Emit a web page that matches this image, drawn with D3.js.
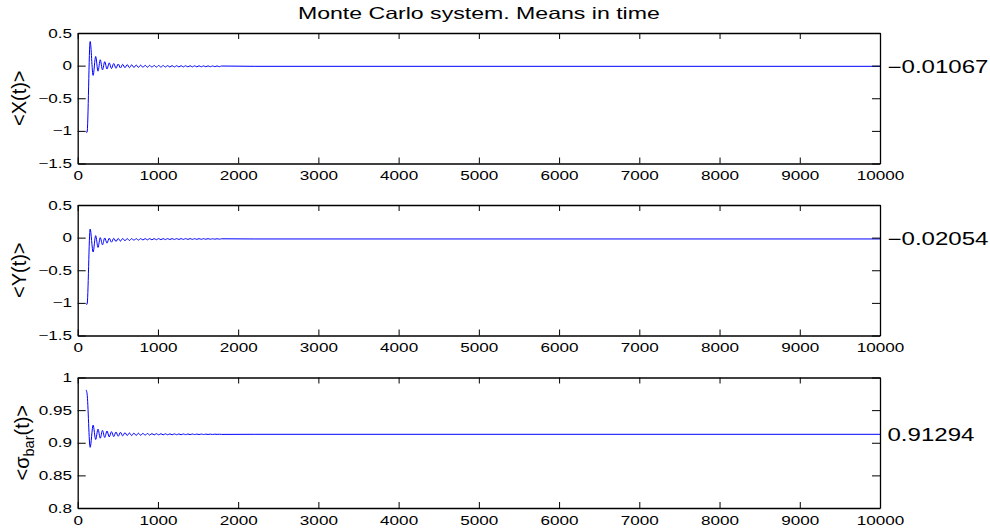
<!DOCTYPE html>
<html>
<head>
<meta charset="utf-8">
<script src="https://cdn.jsdelivr.net/npm/d3@7/dist/d3.min.js"></script>
<style>
  html, body { margin: 0; padding: 0; background: #fff; }
  svg { display: block; font-family: "Liberation Sans", Arial, Helvetica, sans-serif; }
</style>
</head>
<body>
<script>
// Monte Carlo run: time-averaged means of X, Y and sigma_bar.
// Samples are the turning points of the damped oscillation, then the settled value.
const timeSteps = [
  105, 117, 155, 192, 224, 253, 281, 309, 337, 365, 393, 421, 449, 477, 505, 533,
  561, 589, 617, 645, 673, 701, 729, 757, 785, 813, 841, 869, 897, 925, 953, 981,
  1009, 1037, 1065, 1093, 1121, 1149, 1177, 1205, 1233, 1261, 1289, 1317, 1345, 1373,
  1401, 1429, 1457, 1485, 1513, 1541, 1569, 1597, 1625, 1653, 1681, 1709, 1737, 1765,
  1793, 2200, 10000
];

const meanX = [
  -1.02, -1.02, 0.37, -0.15, 0.14, -0.085, 0.09, -0.065, 0.06, -0.052, 0.042, -0.045, 0.032, -0.040, 0.025, -0.036,
  0.020, -0.033, 0.016, -0.031, 0.012, -0.029, 0.009, -0.027, 0.007, -0.026, 0.005, -0.025, 0.004, -0.024, 0.003, -0.023,
  0.002, -0.022, 0.001, -0.022, 0.000, -0.021, 0.000, -0.021, -0.001, -0.020, -0.001, -0.020, -0.002, -0.019,
  -0.002, -0.019, -0.003, -0.018, -0.003, -0.018, -0.004, -0.017, -0.004, -0.017, -0.005, -0.016, -0.005, -0.016,
  -0.006, -0.0107, -0.0107
];

const meanY = [
  -1.02, -1.02, 0.13, -0.22, 0.03, -0.15, 0.0, -0.11, -0.005, -0.085, -0.008, -0.070, -0.010, -0.060, -0.012, -0.053,
  -0.013, -0.048, -0.014, -0.044, -0.014, -0.041, -0.015, -0.038, -0.015, -0.036, -0.015, -0.034, -0.015, -0.033, -0.015, -0.032,
  -0.015, -0.031, -0.015, -0.030, -0.015, -0.029, -0.015, -0.029, -0.015, -0.028, -0.015, -0.028, -0.015, -0.027,
  -0.015, -0.027, -0.016, -0.026, -0.016, -0.026, -0.016, -0.025, -0.016, -0.025, -0.017, -0.024, -0.017, -0.024,
  -0.018, -0.0205, -0.0205
];

const meanSigma = [
  0.981, 0.975, 0.893, 0.927, 0.905, 0.921, 0.907, 0.919, 0.908, 0.918, 0.909, 0.917, 0.9095, 0.9165, 0.910, 0.916,
  0.9105, 0.9155, 0.911, 0.915, 0.911, 0.9148, 0.9112, 0.9146, 0.9114, 0.9144, 0.9116, 0.9142, 0.9118, 0.914, 0.912, 0.9139,
  0.9121, 0.9138, 0.9122, 0.9137, 0.9122, 0.9136, 0.9123, 0.9136, 0.9123, 0.9135, 0.9124, 0.9135, 0.9124, 0.9134,
  0.9125, 0.9134, 0.9125, 0.9133, 0.9126, 0.9133, 0.9126, 0.9132, 0.9127, 0.9132, 0.9127, 0.9132, 0.9128, 0.9131,
  0.9128, 0.91294, 0.91294
];

// Final averages printed beside each panel
const finalLabels = ["-0.01067", "-0.02054", "0.91294"];
const finalValues = [-0.01067, -0.02054, 0.91294];

// Axis ticks
const xTicks = [0, 1000, 2000, 3000, 4000, 5000, 6000, 7000, 8000, 9000, 10000];
const xyTicks = [-1.5, -1, -0.5, 0, 0.5];
const sigmaTicks = [0.8, 0.85, 0.9, 0.95, 1];

const titleText = "Monte Carlo system. Means in time";

// ---------- layout ----------
const W = 990, H = 531;
const left = 77.7, right = 880;
const panelTops = [33, 205, 377.5];
const panelH = 130.5;
const sx = 1.36;           // horizontal widening of horizontal text
const tickFont = 12.6;

const svg = d3.select("body").append("svg").attr("width", W).attr("height", H);

const x = d3.scaleLinear().domain([0, 10000]).range([left, right]);
const fmt = d => String(d).replace("-", "\u2212");

const panels = [
  { values: meanX, domain: [-1.5, 0.5], ticks: xyTicks, label: "X" },
  { values: meanY, domain: [-1.5, 0.5], ticks: xyTicks, label: "Y" },
  { values: meanSigma, domain: [0.8, 1], ticks: sigmaTicks, label: "sigma" }
];

panels.forEach((p, i) => {
  const top = panelTops[i], bottom = top + panelH;
  const y = d3.scaleLinear().domain(p.domain).range([bottom, top]);
  const g = svg.append("g");

  // data line
  const line = d3.line()
    .x((d, k) => x(timeSteps[k]))
    .y(d => y(d))
    .curve(d3.curveMonotoneX);
  g.append("path")
    .datum(p.values)
    .attr("fill", "none")
    .attr("stroke", "#0000ff")
    .attr("stroke-width", 1)
    .attr("d", line);

  // axes, ticks pointing inward on all four sides
  const axB = g.append("g").attr("transform", `translate(0,${bottom})`)
    .call(d3.axisBottom(x).tickValues(xTicks).tickSizeInner(-6).tickSizeOuter(0).tickPadding(7.6).tickFormat(fmt));
  const axT = g.append("g").attr("transform", `translate(0,${top})`)
    .call(d3.axisTop(x).tickValues(xTicks).tickSizeInner(-6).tickSizeOuter(0).tickFormat(""));
  const axL = g.append("g").attr("transform", `translate(${left},0)`)
    .call(d3.axisLeft(y).tickValues(p.ticks).tickSizeInner(-8).tickSizeOuter(0).tickPadding(4.2).tickFormat(fmt));
  const axR = g.append("g").attr("transform", `translate(${right},0)`)
    .call(d3.axisRight(y).tickValues(p.ticks).tickSizeInner(-8).tickSizeOuter(0).tickFormat(""));

  [axB, axT, axL, axR].forEach(a => {
    a.select(".domain").attr("stroke", "#000").attr("stroke-width", 1.3);
    a.selectAll(".tick line").attr("stroke", "#000").attr("stroke-width", 1);
    a.selectAll(".tick text")
      .attr("fill", "#000")
      .attr("font-size", tickFont)
      .attr("font-family", "Liberation Sans, Arial, sans-serif")
      .attr("transform", `scale(${sx},1)`);
  });

  // final value beside the panel
  svg.append("text")
    .attr("transform", `translate(887.5,${y(finalValues[i])}) scale(1.375,1)`)
    .attr("dy", "0.36em")
    .attr("font-size", 17.5)
    .text(fmt(finalLabels[i]));

  // y-axis label
  const cy = (top + bottom) / 2;
  if (p.label === "sigma") {
    const t = svg.append("text")
      .attr("transform", `translate(28.5,${cy}) rotate(-90)`)
      .attr("text-anchor", "middle")
      .attr("font-size", 20);
    t.append("tspan").text("<\u03c3");
    t.append("tspan").attr("dy", 5).attr("font-size", 14.5).text("bar");
    t.append("tspan").attr("dy", -5).text("(t)>");
  } else {
    svg.append("text")
      .attr("transform", `translate(26,${cy}) rotate(-90)`)
      .attr("text-anchor", "middle")
      .attr("font-size", 20)
      .text(`<${p.label}(t)>`);
  }
});

// title
svg.append("text")
  .attr("transform", `translate(${(left + right) / 2},19) scale(1.4,1)`)
  .attr("text-anchor", "middle")
  .attr("font-size", 16.5)
  .text(titleText);
</script>
</body>
</html>
